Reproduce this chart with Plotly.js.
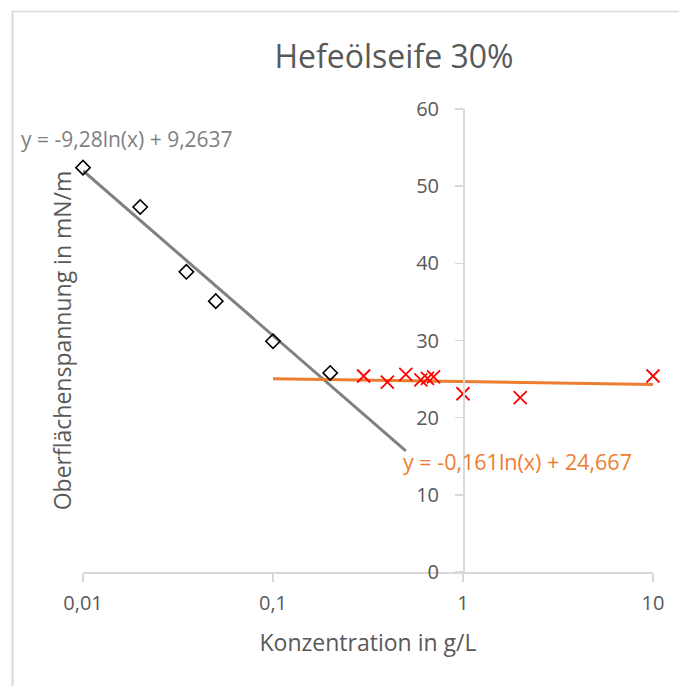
<!DOCTYPE html>
<html>
<head>
<meta charset="utf-8">
<script src="https://cdn.plot.ly/plotly-3.0.1.min.js"></script>
<style>html,body{margin:0;padding:0;background:#fff;overflow:hidden;}#chart{width:679px;height:686px;}</style>
</head>
<body>
<div id="chart"></div>
<script>
// Data
const diamondX = [0.01, 0.02, 0.035, 0.05, 0.1, 0.2];
const diamondY = [52.4, 47.3, 38.9, 35.1, 29.9, 25.8];

const crossX = [0.3, 0.4, 0.5, 0.6, 0.65, 0.7, 1, 2, 10];
const crossY = [25.4, 24.6, 25.6, 24.9, 25.1, 25.3, 23.1, 22.6, 25.4];

// Trendline end points (logarithmic trendlines, straight on the log axis)
const trendGrayX = [0.01, 0.5];
const trendGrayY = [52.0, 15.7];
const trendOrangeX = [0.1, 10];
const trendOrangeY = [25.04, 24.3];

const eqGray = 'y = -9,28ln(x) + 9,2637';
const eqOrange = 'y = -0,161ln(x) + 24,667';

const xTickVals = [0.01, 0.1, 1, 10];
const xTickText = ['0,01', '0,1', '1', '10'];

const chartTitle = 'Hefeölseife 30%';
const xTitle = 'Konzentration in g/L';
const yTitle = 'Oberflächenspannung in mN/m';

const FONT = '"Open Sans", sans-serif';
const TXT = '#595959';
const AX = '#d9d9d9';

const traces = [
  {x: trendGrayX, y: trendGrayY, mode: 'lines', line: {color: '#808080', width: 3}, hoverinfo: 'skip', showlegend: false, cliponaxis: false},
  {x: trendOrangeX, y: trendOrangeY, mode: 'lines', line: {color: '#ED7D31', width: 3}, hoverinfo: 'skip', showlegend: false, cliponaxis: false},
  {x: diamondX, y: diamondY, mode: 'markers', cliponaxis: false, marker: {symbol: 'diamond-open', size: 11, color: '#000000', line: {width: 1.6, color: '#000000'}}, showlegend: false},
  {x: crossX, y: crossY, mode: 'markers', cliponaxis: false, marker: {symbol: 'x-thin-open', size: 13, color: '#FF0000', line: {width: 1.8, color: '#FF0000'}}, showlegend: false}
];

const layout = {
  width: 679, height: 686,
  margin: {l: 83, r: 26, t: 109, b: 114, pad: 0},
  paper_bgcolor: '#ffffff', plot_bgcolor: 'rgba(0,0,0,0)',
  font: {family: FONT, color: TXT, size: 20},
  showlegend: false,
  title: {text: chartTitle, font: {family: FONT, size: 32, color: TXT}, x: 394/679, xref: 'container', xanchor: 'center', y: 1 - 57/686, yref: 'container', yanchor: 'middle'},
  xaxis: {
    type: 'log', range: [-2, 1],
    tickvals: xTickVals, ticktext: xTickText,
    ticks: 'outside', ticklen: 8, tickwidth: 1.5, tickcolor: AX,
    showline: true, linecolor: AX, linewidth: 1.5,
    showgrid: false, zeroline: false,
    tickfont: {family: FONT, size: 20, color: TXT},
    ticklabelstandoff: 4,
    title: {text: xTitle, font: {family: FONT, size: 23, color: TXT}, standoff: 20}
  },
  yaxis: {
    range: [0, 60], dtick: 10, tick0: 0,
    anchor: 'free', position: 2/3, side: 'left',
    ticks: 'outside', ticklen: 8, tickwidth: 1.5, tickcolor: AX,
    showline: true, linecolor: AX, linewidth: 1.5,
    showgrid: false, zeroline: false,
    tickfont: {family: FONT, size: 20, color: TXT},
    ticklabelstandoff: 12,
    title: {text: yTitle, font: {family: FONT, size: 23, color: TXT}, standoff: 336}
  },
  annotations: [
    {text: eqGray, xref: 'paper', yref: 'paper', x: (19-83)/570, y: (572-139)/463, xanchor: 'left', yanchor: 'middle', showarrow: false, font: {family: FONT, size: 21, color: '#7f7f7f'}},
    {text: eqOrange, xref: 'paper', yref: 'paper', x: (401-83)/570, y: (572-461)/463, xanchor: 'left', yanchor: 'middle', showarrow: false, font: {family: FONT, size: 21.5, color: '#ED7D31'}}
  ],
  shapes: [
    {type: 'line', xref: 'paper', yref: 'paper', x0: (12.5-83)/570, x1: (12.5-83)/570, y0: (572-686)/463, y1: (572-11)/463, line: {color: AX, width: 2}, layer: 'below'},
    {type: 'line', xref: 'paper', yref: 'paper', x0: (12-83)/570, x1: (679-83)/570, y0: (572-11.5)/463, y1: (572-11.5)/463, line: {color: AX, width: 1.5}, layer: 'below'}
  ]
};

Plotly.newPlot('chart', traces, layout, {staticPlot: true, displayModeBar: false});
</script>
</body>
</html>
